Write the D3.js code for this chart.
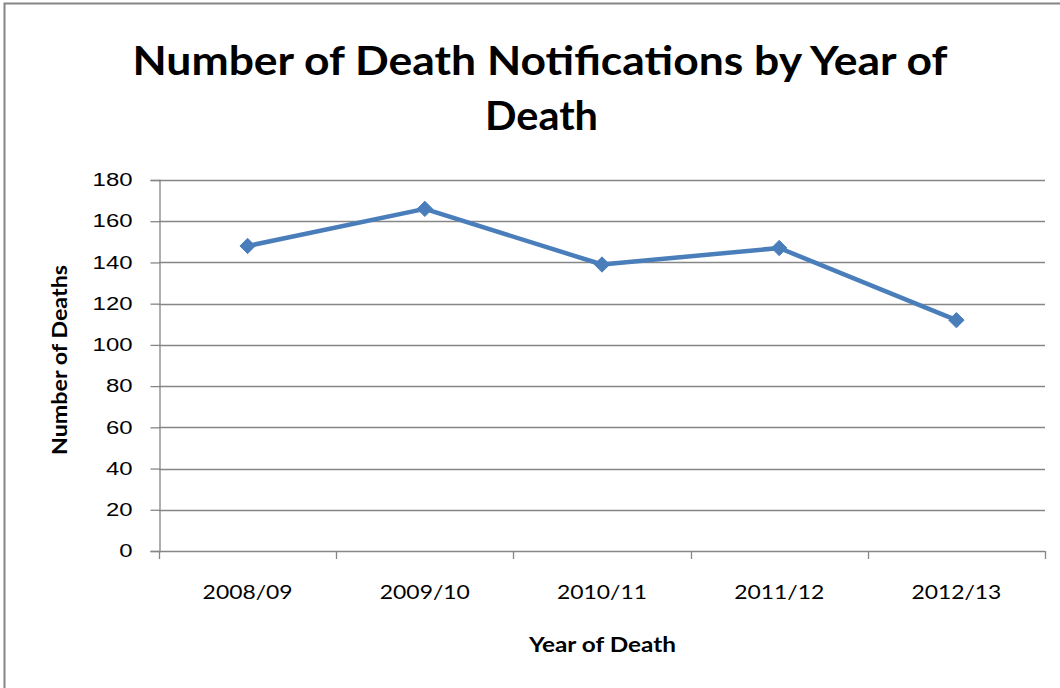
<!DOCTYPE html>
<html><head><meta charset="utf-8">
<script src="https://cdn.jsdelivr.net/npm/d3@7"></script>
<style>body{margin:0;background:#fff}svg{display:block}</style>
</head><body>
<svg id="c" width="1060" height="688"></svg>
<script>
const categories = ["2008/09","2009/10","2010/11","2011/12","2012/13"];
const deaths = [148, 166, 139, 147, 112];
const yTicks = [0,20,40,60,80,100,120,140,160,180];
const titleLines = ["Number of Death Notifications by Year of","Death"];

const svg = d3.select("#c");
const W = 1060, H = 688;
const m = {left:159, right:1045, top:180, bottom:551};
const sans = "Lato, 'Open Sans', sans-serif";

// outer frame (left and top edges visible)
svg.append("path").attr("d", `M4.5,${H} L4.5,3.5 L${W},3.5`).attr("fill","none").attr("stroke","#868686").attr("stroke-width",2);

const x = d3.scaleBand().domain(categories).range([m.left, m.right]).padding(0);
const y = d3.scaleLinear().domain([0,180]).range([m.bottom, m.top]);

// grid
svg.append("g").selectAll("line").data(yTicks).join("line")
  .attr("x1", m.left).attr("x2", m.right)
  .attr("y1", d=>Math.round(y(d))+0.5).attr("y2", d=>Math.round(y(d))+0.5)
  .attr("stroke","#868686").attr("stroke-width",1.3);

// y axis
const ya = svg.append("g").attr("transform",`translate(${m.left+0.5},0)`)
  .call(d3.axisLeft(y).tickValues(yTicks).tickSize(9).tickPadding(18));
ya.select(".domain").attr("stroke","#868686").attr("stroke-width",1.3);
ya.selectAll(".tick line").attr("stroke","#868686").attr("stroke-width",1.3);
ya.selectAll(".tick text").attr("font-family","'Liberation Sans', Arial, sans-serif").attr("font-size",18).attr("fill","#000")
  .attr("textLength", d=>String(d).length*13.3).attr("lengthAdjust","spacingAndGlyphs");

// x axis
const xa = svg.append("g").attr("transform",`translate(0,${Math.round(y(0))+0.5})`)
  .call(d3.axisBottom(x).tickSize(0).tickPadding(33));
xa.select(".domain").remove();
xa.selectAll(".tick text").attr("font-family",sans).attr("font-size",20).attr("fill","#000")
  .attr("textLength",90).attr("lengthAdjust","spacingAndGlyphs");
// tick marks at band boundaries
const bounds = categories.map(c=>x(c)).concat([m.right]);
svg.append("g").selectAll("line").data(bounds).join("line")
  .attr("x1", d=>Math.round(d)+0.5).attr("x2", d=>Math.round(d)+0.5)
  .attr("y1", Math.round(y(0))).attr("y2", Math.round(y(0))+8)
  .attr("stroke","#868686").attr("stroke-width",1.3);

// line
const cx = d => x(d) + x.bandwidth()/2;
svg.append("path").datum(deaths)
  .attr("d", d3.line().x((d,i)=>cx(categories[i])).y(d=>y(d)))
  .attr("fill","none").attr("stroke","#4a7ebb").attr("stroke-width",4.5).attr("stroke-linejoin","round");
svg.append("g").selectAll("path").data(deaths).join("path")
  .attr("d", d3.symbol(d3.symbolDiamond2, 150))
  .attr("transform",(d,i)=>`translate(${cx(categories[i])},${y(d)})`)
  .attr("fill","#4a7ebb").attr("stroke","#4a7ebb").attr("stroke-width",1);

// title
svg.append("text").attr("x",540).attr("y",75).attr("text-anchor","middle")
  .attr("font-family",sans).attr("font-weight","bold").attr("font-size",41)
  .attr("textLength",815).attr("lengthAdjust","spacingAndGlyphs").text(titleLines[0]);
svg.append("text").attr("x",541.5).attr("y",130).attr("text-anchor","middle")
  .attr("font-family",sans).attr("font-weight","bold").attr("font-size",41)
  .attr("textLength",113).attr("lengthAdjust","spacingAndGlyphs").text(titleLines[1]);

// axis titles
svg.append("text").attr("x",602.5).attr("y",652).attr("text-anchor","middle")
  .attr("font-family",sans).attr("font-weight","bold").attr("font-size",20)
  .attr("textLength",147).attr("lengthAdjust","spacingAndGlyphs").text("Year of Death");
svg.append("text").attr("transform","translate(67,360) rotate(-90)").attr("text-anchor","middle")
  .attr("font-family",sans).attr("font-weight","bold").attr("font-size",20)
  .attr("textLength",190).attr("lengthAdjust","spacingAndGlyphs").text("Number of Deaths");
</script>
</body></html>
